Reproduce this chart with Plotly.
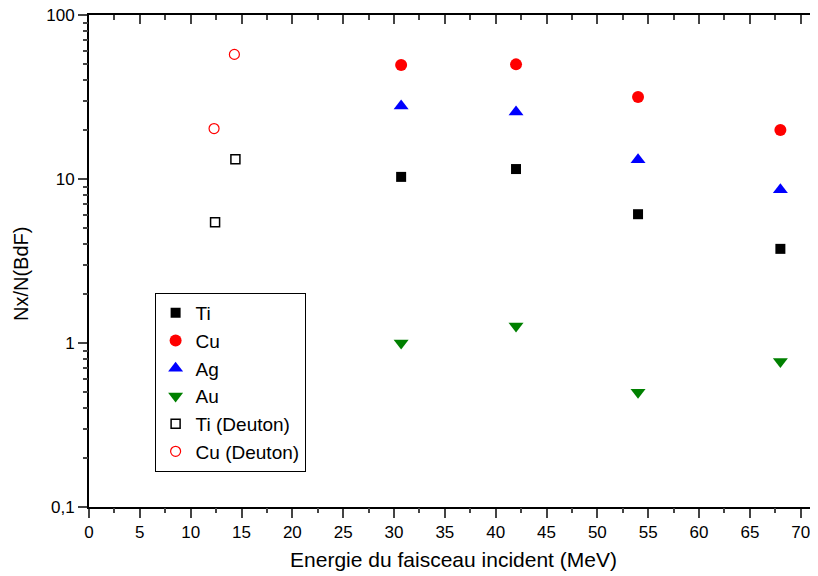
import plotly.graph_objects as go

energy = [30.7, 42.0, 54.0, 68.0]
ti = [10.3, 11.5, 6.1, 3.75]
cu = [49.5, 50.0, 31.6, 19.9]
ag = [27.9, 25.6, 13.1, 8.6]
au = [1.0, 1.27, 0.50, 0.77]
ti_d_x = [12.4, 14.4]
ti_d = [5.45, 13.2]
cu_d_x = [12.3, 14.3]
cu_d = [20.3, 57.5]

ytick_vals = [0.1, 1, 10, 100]
ytick_text = ["0,1", "1", "10", "100"]
xtick_vals = list(range(0, 75, 5))
xminor_vals = [2.5 + 5 * k for k in range(15)]
yminor_vals = [m * 10.0 ** e for e in (-1, 0, 1) for m in range(2, 10)]

FONT = "Arial, Liberation Sans, sans-serif"
XR = [0, 71.7]
YR = [-1, 2]
LW = 2

fig = go.Figure()
fig.add_trace(go.Scatter(x=energy, y=ti, mode="markers", name="Ti",
                         marker=dict(symbol="square", size=10, color="black")))
fig.add_trace(go.Scatter(x=energy, y=cu, mode="markers", name="Cu",
                         marker=dict(symbol="circle", size=12, color="red")))
fig.add_trace(go.Scatter(x=energy, y=ag, mode="markers", name="Ag",
                         marker=dict(symbol="triangle-up", size=13, color="blue")))
fig.add_trace(go.Scatter(x=energy, y=au, mode="markers", name="Au",
                         marker=dict(symbol="triangle-down", size=13, color="green")))
fig.add_trace(go.Scatter(x=ti_d_x, y=ti_d, mode="markers", name="Ti (Deuton)",
                         marker=dict(symbol="square-open", size=9, color="black",
                                     line=dict(width=1.5))))
fig.add_trace(go.Scatter(x=cu_d_x, y=cu_d, mode="markers", name="Cu (Deuton)",
                         marker=dict(symbol="circle-open", size=10, color="red",
                                     line=dict(width=1.2))))
# helper traces so the extra tick axes are drawn (fully transparent)
for xa, ya in (("x2", "y2"), ("x3", "y3"), ("x4", "y3")):
    fig.add_trace(go.Scatter(x=energy, y=ti, mode="markers", xaxis=xa, yaxis=ya,
                             marker=dict(opacity=0), showlegend=False, hoverinfo="skip"))

common = dict(showgrid=False, zeroline=False, automargin=False)

fig.update_layout(
    width=810, height=568,
    margin=dict(l=81, r=0, t=7, b=69),
    paper_bgcolor="white", plot_bgcolor="white",
    font=dict(family=FONT, size=17, color="black"),
    xaxis=dict(range=XR, tickvals=xtick_vals, ticks="outside", ticklen=9,
               tickwidth=LW, showline=True, linecolor="black", linewidth=LW,
               anchor="y", ticklabeloverflow="allow",
               title=dict(text="Energie du faisceau incident (MeV)", font=dict(size=21), standoff=11),
               tickfont=dict(size=17), **common),
    yaxis=dict(type="log", range=YR, tickvals=ytick_vals, ticktext=ytick_text,
               ticks="outside", ticklen=9, tickwidth=LW, showline=True,
               linecolor="black", linewidth=LW, anchor="x", ticklabeloverflow="allow",
               tickfont=dict(size=17), **common),
    xaxis2=dict(overlaying="x", side="top", anchor="y", range=XR, tickvals=xtick_vals,
                ticks="inside", ticklen=9, tickwidth=LW, showticklabels=False,
                showline=True, linecolor="black", linewidth=LW, **common),
    xaxis3=dict(overlaying="x", side="bottom", anchor="y", range=XR, tickvals=xminor_vals,
                ticks="outside", ticklen=5, tickwidth=LW, showticklabels=False,
                showline=False, **common),
    xaxis4=dict(overlaying="x", side="top", anchor="y", range=XR, tickvals=xminor_vals,
                ticks="inside", ticklen=5, tickwidth=LW, showticklabels=False,
                showline=False, **common),
    yaxis2=dict(overlaying="y", side="right", anchor="x", type="log", range=YR,
                tickvals=ytick_vals, ticks="inside", ticklen=3, tickwidth=LW,
                showticklabels=False, showline=False, **common),
    yaxis3=dict(overlaying="y", side="left", anchor="x", type="log", range=YR,
                tickvals=yminor_vals, ticks="outside", ticklen=5, tickwidth=LW,
                showticklabels=False, showline=False, **common),
    legend=dict(x=0.09, y=0.435, xanchor="left", yanchor="top",
                bordercolor="black", borderwidth=1, bgcolor="white",
                font=dict(size=19), itemsizing="trace", tracegroupgap=0),
    annotations=[dict(text="Nx/N(BdF)", textangle=-90, xref="paper", yref="paper",
                      x=-0.093, y=0.474, xanchor="center", yanchor="middle",
                      showarrow=False, font=dict(size=20))],
)

fig.write_html("out.html")
